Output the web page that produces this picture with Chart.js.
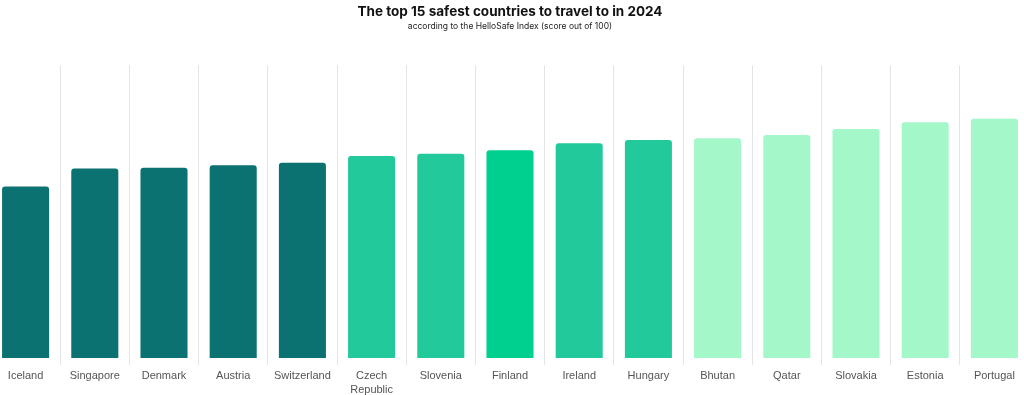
<!DOCTYPE html>
<html>
<head>
<meta charset="utf-8">
<script src="https://cdn.jsdelivr.net/npm/chart.js@4/dist/chart.umd.min.js"></script>
<style>
  html, body { margin: 0; padding: 0; background: #fff; overflow: hidden; }
  #wrap { position: absolute; left: -9px; top: 0; width: 1038px; height: 395px; }
</style>
</head>
<body>
<div id="wrap"><canvas id="chart"></canvas></div>
<script>
// Countries ranked by HelloSafe index score (out of 100)
const COUNTRIES = [
  "Iceland", "Singapore", "Denmark", "Austria", "Switzerland",
  ["Czech", "Republic"], "Slovenia", "Finland", "Ireland", "Hungary",
  "Bhutan", "Qatar", "Slovakia", "Estonia", "Portugal"
]
const SCORES = [58.6, 64.8, 65.0, 65.9, 66.7, 69.0, 69.8, 71.0, 73.4, 74.5, 75.1, 76.2, 78.3, 80.6, 81.8]
const TIER = [0, 0, 0, 0, 0, 1, 1, 2, 1, 1, 3, 3, 3, 3, 3]

const TIER_COLORS = ["#0b7171", "#22c99b", "#00d08f", "#a4f7c8"]
const LABEL_FONT = "'Liberation Sans', Arial, sans-serif"
const TITLE_FONT = "Inter, 'Liberation Sans', sans-serif"

new Chart(document.getElementById("chart").getContext("2d"), {
  type: "bar",
  data: {
    labels: COUNTRIES,
    datasets: [{
      data: SCORES,
      backgroundColor: TIER.map((t) => TIER_COLORS[t]),
      borderRadius: 3,
      borderSkipped: "bottom",
      barPercentage: 0.68,
      categoryPercentage: 1
    }]
  },
  options: {
    responsive: true,
    maintainAspectRatio: false,
    animation: false,
    layout: { padding: { top: 4, bottom: 0, left: 0, right: 0 } },
    plugins: {
      legend: { display: false },
      tooltip: { enabled: false },
      title: {
        display: true,
        text: "The top 15 safest countries to travel to in 2024",
        color: "#111",
        font: { family: TITLE_FONT, size: 13.5, weight: "bold" },
        padding: { top: 0, bottom: 1 }
      },
      subtitle: {
        display: true,
        text: "according to the HelloSafe Index (score out of 100)",
        color: "#222",
        font: { family: TITLE_FONT, size: 8.5 },
        padding: { top: 0, bottom: 34 }
      }
    },
    scales: {
      x: {
        grid: {
          offset: true,
          color: "#e4e4e4",
          drawTicks: true,
          tickLength: 7
        },
        border: { display: false },
        // fixed axis band so the bar baseline lands where the original has it
        afterFit: (scale) => { scale.height = 37 },
        ticks: {
          color: "#555",
          padding: 4,
          maxRotation: 0,
          font: { family: LABEL_FONT, size: 11, lineHeight: 1.27 }
        }
      },
      y: {
        display: false,
        min: 0,
        max: 100
      }
    }
  }
})
</script>
</body>
</html>
